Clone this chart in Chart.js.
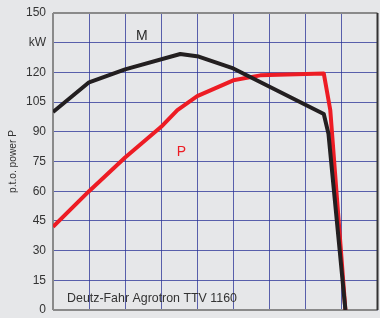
<!DOCTYPE html>
<html>
<head>
<meta charset="utf-8">
<script src="https://cdn.jsdelivr.net/npm/chart.js@4"></script>
<style>
  html, body { margin: 0; padding: 0; background: #e6e7e9; }
  #wrap { width: 380px; height: 318px; }
</style>
</head>
<body>
<div id="wrap"><canvas id="c" width="380" height="318"></canvas></div>
<script>
// engine speed steps (no labels on the x axis), power in kW
const mX = [0, 1, 2, 3.53, 4.04, 5, 7.51, 7.64, 8.11];
const mPower = [100, 115, 121.5, 129.3, 128, 122, 99, 89, 0];
const pX = [0, 1, 2, 3, 3.45, 4.0, 5, 5.75, 7.51, 7.69, 8.11];
const pPower = [42, 60, 77, 92.5, 101, 108, 116, 118.5, 119.5, 101, 0];
const yTicks = [0, 15, 30, 45, 60, 75, 90, 105, 120, 135, 150];
const caption = "Deutz-Fahr Agrotron TTV 1160";

const toPts = (xs, ys) => xs.map((x, i) => ({ x, y: ys[i] }));

// frame + free labels placed in data space
const decor = {
  id: "decor",
  beforeDatasetsDraw(chart) {
    const { ctx, chartArea: a } = chart;
    ctx.save();
    ctx.lineWidth = 2;
    ctx.strokeStyle = "#8a8a8a";
    ctx.beginPath();
    ctx.moveTo(a.left, a.top); ctx.lineTo(a.right, a.top);
    ctx.moveTo(a.left, a.top); ctx.lineTo(a.left, a.bottom);
    ctx.moveTo(a.left, a.bottom); ctx.lineTo(a.right, a.bottom);
    ctx.stroke();
    ctx.strokeStyle = "#333";
    ctx.beginPath();
    ctx.moveTo(a.right, a.top); ctx.lineTo(a.right, a.bottom);
    ctx.stroke();
    ctx.restore();
  },
  afterDatasetsDraw(chart) {
    const { ctx, scales: { x, y } } = chart;
    ctx.save();
    ctx.textBaseline = "middle";
    ctx.font = "14px 'Liberation Sans', Arial, sans-serif";
    ctx.fillStyle = "#2a2a2a";
    ctx.fillText("M", x.getPixelForValue(2.3), y.getPixelForValue(138.5));
    ctx.fillStyle = "#ed1c24";
    ctx.fillText("P", x.getPixelForValue(3.43), y.getPixelForValue(79.5));
    ctx.font = "12.4px 'Liberation Sans', Arial, sans-serif";
    ctx.fillStyle = "#333";
    ctx.fillText(caption, x.getPixelForValue(0.39), y.getPixelForValue(5.6));
    ctx.restore();
  }
};

new Chart(document.getElementById("c"), {
  type: "line",
  data: {
    datasets: [
      { label: "M", data: toPts(mX, mPower), borderColor: "#231f20", borderWidth: 4, pointRadius: 0, tension: 0, borderJoinStyle: "round" },
      { label: "P", data: toPts(pX, pPower), borderColor: "#ed1c24", borderWidth: 4, pointRadius: 0, tension: 0, borderJoinStyle: "round" }
    ]
  },
  options: {
    responsive: false,
    animation: false,
    layout: { padding: { top: 13, right: 2.5, bottom: 8, left: 0 } },
    plugins: { legend: { display: false }, tooltip: { enabled: false } },
    scales: {
      x: {
        type: "linear", min: 0, max: 9,
        ticks: { display: false, stepSize: 1 },
        grid: { color: "rgba(40,50,150,0.75)", lineWidth: 1, drawTicks: false },
        border: { display: false },
        afterFit: (s) => { s.height = 0; }
      },
      y: {
        min: 0, max: 150,
        afterBuildTicks: (s) => { s.ticks = yTicks.map((v) => ({ value: v })); },
        ticks: {
          padding: 7, color: "#333",
          font: { size: 12, family: "'Liberation Sans', Arial, sans-serif" },
          callback: (v) => (v === 135 ? "kW" : v)
        },
        grid: { color: "rgba(40,50,150,0.75)", lineWidth: 1, drawTicks: false },
        border: { display: false },
        title: {
          display: true, text: "p.t.o. power P", color: "#333",
          font: { size: 10.2, family: "'Liberation Sans', Arial, sans-serif" },
          padding: { top: 7, bottom: 0 }
        },
        afterFit: (s) => { s.width = 53; s.paddingTop = 0; s.paddingBottom = 0; }
      }
    }
  },
  plugins: [decor]
});
</script>
</body>
</html>
